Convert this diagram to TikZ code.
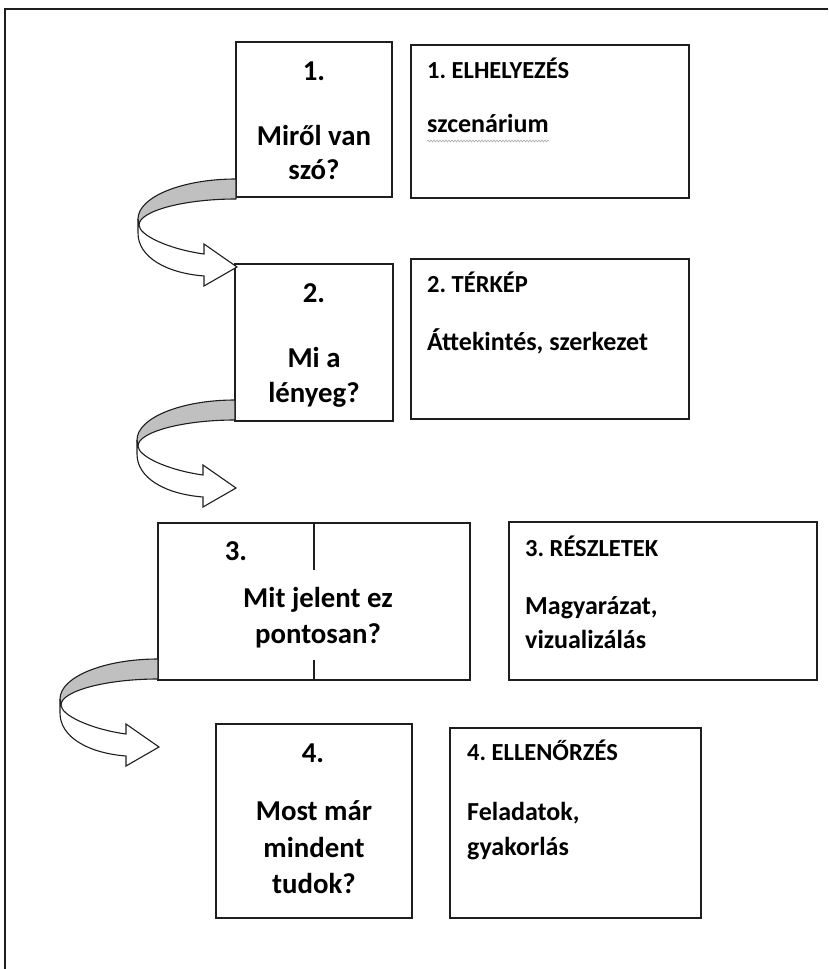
\documentclass[tikz,border=0pt]{standalone}
\usepackage{fontspec}
\setmainfont{Carlito}
\usetikzlibrary{decorations.pathmorphing}
\definecolor{bandgray}{RGB}{192,192,192}
\definecolor{inkline}{RGB}{30,30,30}
\frenchspacing
\begin{document}
\begin{tikzpicture}[x=1pt,y=-1pt,
  box/.style={draw=inkline,line width=1.4pt,inner sep=0pt,outer sep=0pt,fill=white},
  bigtxt/.style={font=\bfseries\fontsize{28.8}{34}\selectfont,inner sep=0pt,anchor=base},
  headtxt/.style={font=\bfseries\fontsize{24.5}{29}\selectfont,inner sep=0pt,anchor=base west},
  bodytxt/.style={font=\bfseries\fontsize{26}{31}\selectfont,inner sep=0pt,anchor=base west},
  uturn/.pic={
    % back half of the ribbon (grey inside)
    \filldraw[fill=bandgray,draw=inkline,line width=1.1pt,line join=round]
      (0,0) .. controls (-54,0) and (-98,18) .. (-98,40)
      -- (-97,46) .. controls (-97,32) and (-52,20) .. (0,20) -- cycle;
    % front half with the arrow head
    \filldraw[fill=white,draw=inkline,line width=1.1pt,line join=miter]
      (-98,40) -- (-98,54) .. controls (-98,78) and (-70,94) .. (-32,97)
      -- (-32,107) -- (1,88) -- (-32,65) -- (-32,75)
      .. controls (-68,70) and (-97,56) .. (-97,46) -- cycle;
  }]
\useasboundingbox (0,0) rectangle (828,969);
% page frame
\draw[inkline,line width=1.5pt] (5,969) -- (5,9) -- (828,9);

% question boxes
\node[box,minimum width=156pt,minimum height=155pt] (b1) at (314,119.5) {};
\node[box,minimum width=158pt,minimum height=157pt] (b2) at (314,342.5) {};
\node[box,minimum width=312pt,minimum height=157pt] (b3) at (314,601.5) {};
\node[box,minimum width=196pt,minimum height=194pt] (b4) at (314,821) {};
% stage boxes
\node[box,minimum width=278pt,minimum height=153pt] (r1) at (550,121.5) {};
\node[box,minimum width=278pt,minimum height=160pt] (r2) at (550,339) {};
\node[box,minimum width=308pt,minimum height=158pt] (r3) at (663,601) {};
\node[box,minimum width=251pt,minimum height=190pt] (r4) at (575.5,823) {};

% divider in box 3, hidden behind the text
\draw[inkline,line width=1.4pt] (b3.north) -- ++(0,47);
\draw[inkline,line width=1.4pt] (b3.south) -- ++(0,-20);

% curved arrows between the question boxes
\pic at ([yshift=18pt]b1.south west) {uturn};
\pic at ([yshift=21pt]b2.south west) {uturn};
\pic at ([yshift=21pt]b3.south west) {uturn};

% question texts
\node[bigtxt] (q1a) at (314,80) {1.};
\node[bigtxt] (q1b) at (314,145) {Miről van};
\node[bigtxt] (q1c) at (314,179) {szó?};
\node[bigtxt] (q2a) at (314,302) {2.};
\node[bigtxt] (q2b) at (314,367) {Mi a};
\node[bigtxt] (q2c) at (314,402) {lényeg?};
\node[bigtxt] (q3a) at (236,560) {3.};
\node[bigtxt] (q3b) at (318,607) {Mit jelent ez};
\node[bigtxt] (q3c) at (318,643) {pontosan?};
\node[bigtxt] (q4a) at (313,762) {4.};
\node[bigtxt] (q4b) at (314,820) {Most már};
\node[bigtxt] (q4c) at (314,857) {mindent};
\node[bigtxt] (q4d) at (314,893) {tudok?};

% stage texts
\node[headtxt] (s1a) at (427,78) {1. ELHELYEZÉS};
\node[bodytxt] (s1b) at (427,132) {szcenárium};
\draw[gray!75,line width=0.5pt,decorate,decoration={snake,amplitude=1pt,segment length=3pt}]
  ([yshift=-9pt]s1b.base west) -- ([yshift=-9pt]s1b.base east);
\node[headtxt] (s2a) at (427,292) {2. TÉRKÉP};
\node[bodytxt] (s2b) at (427,350) {Áttekintés, szerkezet};
\node[headtxt] (s3a) at (525,556) {3. RÉSZLETEK};
\node[bodytxt] (s3b) at (525,614) {Magyarázat,};
\node[bodytxt] (s3c) at (525,648) {vizualizálás};
\node[headtxt] (s4a) at (467,760) {4. ELLENŐRZÉS};
\node[bodytxt] (s4b) at (467,820) {Feladatok,};
\node[bodytxt] (s4c) at (467,855) {gyakorlás};
\end{tikzpicture}
\end{document}
